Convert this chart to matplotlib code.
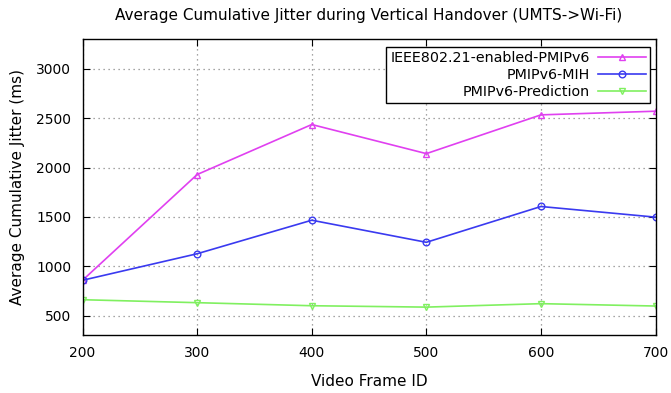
import numpy as np
import matplotlib.pyplot as plt

# data
frame_ids = [200, 300, 400, 500, 600, 700]
jitter_ieee = [857, 1929, 2436, 2141, 2534, 2571]
jitter_mih = [857, 1126, 1466, 1242, 1605, 1497]
jitter_pred = [660, 630, 599, 585, 620, 596]

plt.rcParams['font.family'] = ['DejaVu Sans']

fig = plt.figure(figsize=(6.71, 3.93), dpi=100)
ax = fig.add_axes([0.123, 0.147, 0.854, 0.753])

ax.plot(frame_ids, jitter_ieee, color='#e040f0', lw=1.2, marker='^', ms=4.8,
        mfc='none', mew=1.0, label='IEEE802.21-enabled-PMIPv6')
ax.plot(frame_ids, jitter_mih, color='#3a3af0', lw=1.2, marker='o', ms=4.8,
        mfc='none', mew=1.0, label='PMIPv6-MIH')
ax.plot(frame_ids, jitter_pred, color='#80f060', lw=1.2, marker='v', ms=4.8,
        mfc='none', mew=1.0, label='PMIPv6-Prediction')

ax.set_xlim(200, 700)
ax.set_ylim(300, 3300)
ax.set_xticks(np.arange(200, 701, 100))
ax.set_yticks(np.arange(500, 3001, 500))
ax.tick_params(direction='in', top=True, right=True, length=5, labelsize=10,
               pad=8)
ax.grid(True, color='#888888', linestyle=(0, (1, 3)), lw=0.9)
for s in ax.spines.values():
    s.set_linewidth(1.0)

ax.set_xlabel('Video Frame ID', fontsize=11, labelpad=10)
ax.set_ylabel('Average Cumulative Jitter (ms)', fontsize=11, labelpad=8)
ax.set_title('Average Cumulative Jitter during Vertical Handover (UMTS->Wi-Fi)',
             fontsize=11, pad=14)

leg = ax.legend(loc='upper right', bbox_to_anchor=(0.995, 0.985),
                markerfirst=False, fontsize=10.3, frameon=True, fancybox=False,
                handlelength=3.3, borderpad=0.3, labelspacing=0.2,
                handletextpad=0.6, borderaxespad=0.2)
leg.get_frame().set_edgecolor('black')
leg.get_frame().set_linewidth(1.0)
leg.get_frame().set_alpha(1)
for t in leg.get_texts():
    t.set_ha('right')
leg._legend_box.align = 'right'

fig.savefig('out.png', dpi=100)
